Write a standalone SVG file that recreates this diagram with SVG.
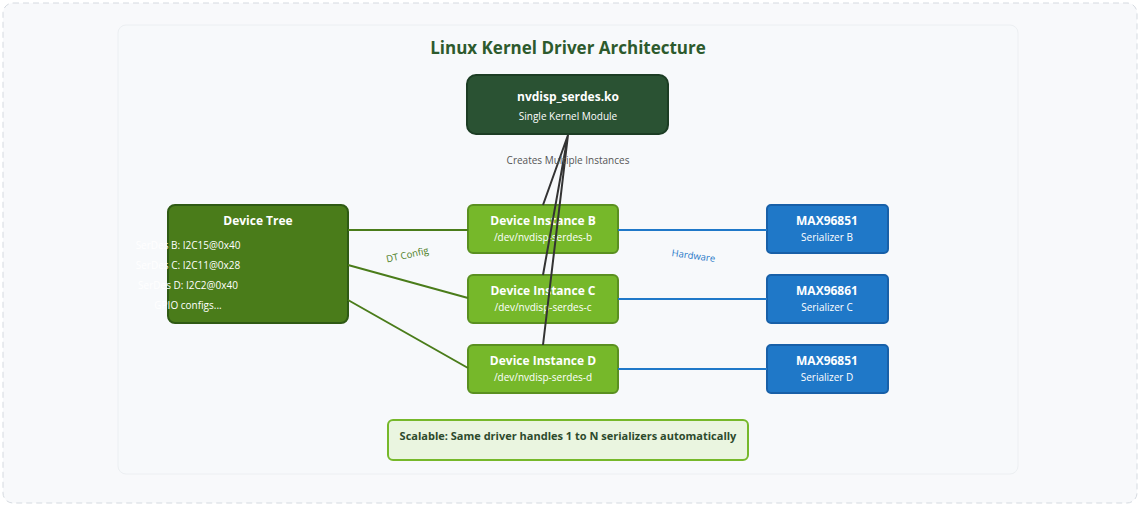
<svg xmlns="http://www.w3.org/2000/svg" width="1141" height="506" viewBox="0 0 1141 506">
<style>
text{font-family:"Open Sans","DejaVu Sans",sans-serif;text-anchor:middle}
.inst rect{fill:#76b82a;stroke:#5a9020;stroke-width:2}
.max rect{fill:#1f78c8;stroke:#1860a8;stroke-width:2}
.t{fill:#fff;font-weight:bold;font-size:12px}
.s{fill:#fff;font-size:10px}
.g{stroke:#4a7c1a;stroke-width:2;fill:none}
.b{stroke:#1f78c8;stroke-width:2;fill:none}
.k{stroke:#333;stroke-width:2;fill:none}
</style>
<rect x="0" y="0" width="1141" height="506" fill="#fff"/>
<rect x="3" y="3" width="1134" height="500" rx="10" fill="#f8f9fb" stroke="#d5dae0" stroke-dasharray="6,4"/>
<rect x="118" y="25" width="900" height="449" rx="8" fill="#f7f9fb" stroke="#eceff2"/>
<text x="568" y="54" font-size="17" font-weight="bold" fill="#2d5a2d">Linux Kernel Driver Architecture</text>
<g id="module"><rect x="467" y="75" width="201" height="59" rx="9" fill="#2a5233" stroke="#1c3d24" stroke-width="2"/>
<text x="568" y="101" class="t" font-size="15">nvdisp_serdes.ko</text><text x="568" y="120" class="s" font-size="11">Single Kernel Module</text></g>
<g id="devtree"><rect x="168" y="205" width="180" height="118" rx="7" fill="#4a7c1a" stroke="#2f5a14" stroke-width="2"/>
<text x="258" y="225" class="t" font-size="13">Device Tree</text>
<g class="s" font-size="10.5"><text x="188" y="249" text-anchor="start">SerDes B: I2C15@0x40</text><text x="188" y="269" text-anchor="start">SerDes C: I2C11@0x28</text><text x="188" y="289" text-anchor="start">SerDes D: I2C2@0x40</text><text x="188" y="309" text-anchor="start">GPIO configs...</text></g></g>
<g id="instB" class="inst"><rect x="468" y="205" width="150" height="48" rx="5"/><text x="543" y="225" class="t">Device Instance B</text><text x="543" y="241" class="s">/dev/nvdisp-serdes-b</text></g>
<g id="instC" class="inst"><rect x="468" y="275" width="150" height="48" rx="5"/><text x="543" y="295" class="t">Device Instance C</text><text x="543" y="311" class="s">/dev/nvdisp-serdes-c</text></g>
<g id="instD" class="inst"><rect x="468" y="345" width="150" height="48" rx="5"/><text x="543" y="365" class="t">Device Instance D</text><text x="543" y="381" class="s">/dev/nvdisp-serdes-d</text></g>
<g id="maxB" class="max"><rect x="767" y="205" width="121" height="48" rx="4"/><text x="827" y="225" class="t">MAX96851</text><text x="827" y="241" class="s">Serializer B</text></g>
<g id="maxC" class="max"><rect x="767" y="275" width="121" height="48" rx="4"/><text x="827" y="295" class="t">MAX96861</text><text x="827" y="311" class="s">Serializer C</text></g>
<g id="maxD" class="max"><rect x="767" y="345" width="121" height="48" rx="4"/><text x="827" y="365" class="t">MAX96851</text><text x="827" y="381" class="s">Serializer D</text></g>
<g id="note"><rect x="388" y="420" width="360" height="40" rx="5" fill="#eaf5e0" stroke="#76b82a" stroke-width="2"/><text x="568" y="440" font-size="11" font-weight="bold" fill="#2d4a2d">Scalable: Same driver handles 1 to N serializers automatically</text></g>
<g id="connectors">
<path class="g" d="M348 230H468M348 265L468 298M348 300L468 368"/>
<path class="b" d="M618 230H767M618 299H767M618 369H767"/>
<path class="k" d="M568 135L543 205M568 135L543 275M568 135L543 345"/>
<text x="568" y="164" font-size="10" fill="#555">Creates Multiple Instances</text>
<text x="408" y="258" font-size="9.5" fill="#4a7c1a" transform="rotate(-12 408 258)">DT Config</text>
<text x="693" y="259" font-size="9.5" fill="#1f78c8" transform="rotate(8 693 259)">Hardware</text>
</g>
</svg>
